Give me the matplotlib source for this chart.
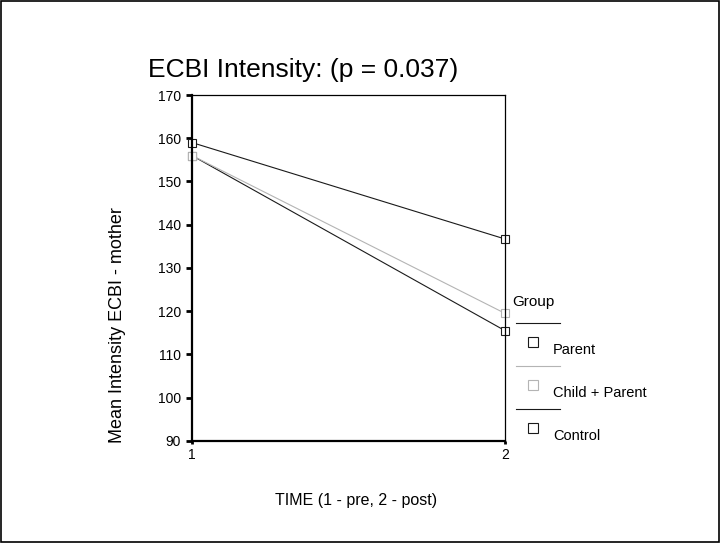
import matplotlib.pyplot as plt
from matplotlib.lines import Line2D
from matplotlib.patches import Rectangle

plt.rcParams['font.family'] = ['Liberation Sans', 'DejaVu Sans']

time = [1, 2]
groups = ['Parent', 'Child + Parent', 'Control']
parent = [156.0, 115.5]
child_parent = [156.0, 119.5]
control = [159.0, 136.7]
series = [parent, child_parent, control]
colors = ['#1a1a1a', '#b4b4b4', '#1a1a1a']

fig = plt.figure(figsize=(7.2, 5.43), dpi=100)
ax = fig.add_axes([0.2667, 0.188, 0.4347, 0.637])

for vals, c in zip(series, colors):
    ax.plot(time, vals, color=c, linewidth=0.8, marker='s', markersize=6,
            markerfacecolor='white', markeredgecolor=c, markeredgewidth=0.8,
            clip_on=False)

ax.set_xlim(1, 2)
ax.set_ylim(90, 170)
ax.set_xticks([1, 2])
ax.set_yticks(range(90, 171, 10))
ax.tick_params(axis='y', direction='out', length=4, width=2, labelsize=10, pad=4)
ax.tick_params(axis='x', direction='out', length=2, width=2, labelsize=10, pad=3)
for s in ax.spines.values():
    s.set_linewidth(0.9)
ax.spines['left'].set_linewidth(1.6)
ax.spines['bottom'].set_linewidth(1.6)

ax.set_title('ECBI Intensity: (p = 0.037)', fontsize=19, loc='left',
             x=-0.14, pad=13)
ax.set_ylabel('Mean Intensity ECBI - mother', fontsize=13)
ax.yaxis.set_label_coords(-0.21, 0.335)
fig.text(0.382, 0.079, 'TIME (1 - pre, 2 - post)', fontsize=11.5,
         ha='left', va='center')

# legend block
fig.text(0.711, 0.444, 'Group', fontsize=11, ha='left', va='center')
ly = [0.405, 0.326, 0.247]
for y, c, g in zip(ly, colors, groups):
    fig.add_artist(Line2D([0.717, 0.778], [y, y], color=c, linewidth=0.8,
                          transform=fig.transFigure))
    fig.add_artist(Line2D([0.740], [y - 0.035], marker='s', markersize=6.5,
                          markerfacecolor='white', markeredgecolor=c,
                          markeredgewidth=0.8, linestyle='none',
                          transform=fig.transFigure))
    fig.text(0.768, y - 0.05, g, fontsize=10.5, ha='left', va='center')

fig.add_artist(Rectangle((0.001, 0.001), 0.997, 0.997, fill=False,
                         edgecolor='black', linewidth=1.2,
                         transform=fig.transFigure))

fig.savefig('out.png', dpi=100)
